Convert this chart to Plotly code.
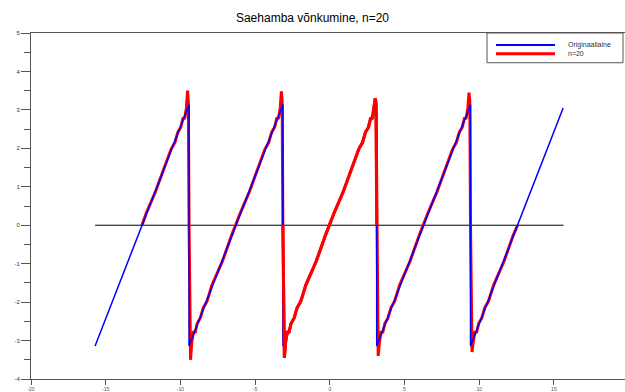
import plotly.graph_objects as go

# Original sawtooth (piecewise linear vertices)
orig_x = [-15.71, -9.42, -9.42, -3.14, -3.14, 3.14, 3.14, 9.42, 9.42, 15.62]
orig_y = [-3.14, 3.14, -3.14, 3.14, -3.14, 3.14, -3.14, 3.14, -3.14, 3.05]

# Zero line
zero_x = [-15.71, 15.64]
zero_y = [0, 0]

# Fourier approximation n=20
n20_x = [-12.57, -12.27, -11.67, -10.97,
         -10.62, -10.37, -10.17, -9.97, -9.82, -9.72, -9.60, -9.52, -9.47, -9.42,
         -9.37, -9.32, -9.24, -9.12, -9.02, -8.87, -8.67, -8.47, -8.22,
         -7.88, -7.18, -6.58, -5.98, -5.38, -4.68,
         -4.34, -4.09, -3.89, -3.69, -3.54, -3.44, -3.32, -3.24, -3.19, -3.14,
         -3.09, -3.04, -2.96, -2.84, -2.74, -2.59, -2.39, -2.19, -1.94,
         -1.60, -0.90, -0.30, 0.30, 0.90, 1.60,
         1.94, 2.19, 2.39, 2.59, 2.74, 2.84, 2.96, 3.04, 3.09, 3.14,
         3.19, 3.24, 3.32, 3.44, 3.54, 3.69, 3.89, 4.09, 4.34,
         4.68, 5.38, 5.98, 6.58, 7.18, 7.88,
         8.22, 8.47, 8.67, 8.87, 9.02, 9.12, 9.24, 9.32, 9.37, 9.42,
         9.47, 9.52, 9.60, 9.72, 9.82, 9.97, 10.17, 10.37, 10.62,
         10.97, 11.67, 12.27, 12.57]
n20_y = [0.00, 0.33, 0.87, 1.62,
         1.98, 2.15, 2.42, 2.55, 2.80, 2.76, 3.05, 3.50, 3.25, 0.00,
         -3.25, -3.50, -3.05, -2.76, -2.80, -2.55, -2.42, -2.15, -1.98,
         -1.55, -0.93, -0.27, 0.33, 0.87, 1.62,
         1.98, 2.15, 2.42, 2.55, 2.80, 2.76, 3.05, 3.48, 3.25, 0.00,
         -3.25, -3.45, -3.05, -2.76, -2.80, -2.55, -2.42, -2.15, -1.98,
         -1.55, -0.93, -0.27, 0.33, 0.87, 1.62,
         1.98, 2.15, 2.42, 2.55, 2.80, 2.76, 3.05, 3.30, 3.20, 0.00,
         -3.20, -3.40, -3.05, -2.76, -2.80, -2.55, -2.42, -2.15, -1.98,
         -1.55, -0.93, -0.27, 0.33, 0.87, 1.62,
         1.98, 2.15, 2.42, 2.55, 2.80, 2.76, 3.05, 3.45, 3.25, 0.00,
         -3.20, -3.30, -3.05, -2.76, -2.80, -2.55, -2.42, -2.15, -1.98,
         -1.55, -0.93, -0.27, 0.00]

x_ticks = [-20, -15, -10, -5, 0, 5, 10, 15, 20]
y_ticks = [-4, -3, -2, -1, 0, 1, 2, 3, 4, 5]
legend_names = ["Originaallaine", "n=20"]

BLUE = "#0000ff"
RED = "#ff0000"

# middle tooth of the approximation sits on top of the original line
i0 = n20_x.index(-3.14)
i1 = n20_x.index(3.14)

fig = go.Figure()
fig.add_trace(go.Scatter(x=zero_x, y=zero_y, mode="lines",
                         line=dict(color="black", width=1), showlegend=False,
                         hoverinfo="skip"))
fig.add_trace(go.Scatter(x=n20_x, y=n20_y, mode="lines", name=legend_names[1],
                         line=dict(color=RED, width=3), showlegend=False))
fig.add_trace(go.Scatter(x=orig_x, y=orig_y, mode="lines", name=legend_names[0],
                         line=dict(color=BLUE, width=1.5), showlegend=False))
fig.add_trace(go.Scatter(x=n20_x[i0:i1 + 1], y=n20_y[i0:i1 + 1], mode="lines",
                         name=legend_names[1],
                         line=dict(color=RED, width=3), showlegend=False))

# legend box (drawn in paper coordinates)
def px_x(p):
    return (p - 31) / 594.0

def px_y(p):
    return (382 - p) / 349.0

shapes = [
    dict(type="rect", xref="paper", yref="paper",
         x0=px_x(487), x1=px_x(623), y0=px_y(63), y1=px_y(33),
         line=dict(color="#555", width=1), fillcolor="white", layer="above"),
    dict(type="line", xref="paper", yref="paper",
         x0=px_x(496), x1=px_x(555), y0=px_y(45), y1=px_y(45),
         line=dict(color=BLUE, width=2), layer="above"),
    dict(type="line", xref="paper", yref="paper",
         x0=px_x(496), x1=px_x(555), y0=px_y(54), y1=px_y(54),
         line=dict(color=RED, width=3), layer="above"),
]
annotations = [
    dict(text=legend_names[0], xref="paper", yref="paper", x=px_x(566), y=px_y(45),
         xanchor="left", yanchor="middle", showarrow=False,
         font=dict(size=7, color="#333")),
    dict(text=legend_names[1], xref="paper", yref="paper", x=px_x(566), y=px_y(54),
         xanchor="left", yanchor="middle", showarrow=False,
         font=dict(size=7, color="#333")),
]

fig.update_layout(
    width=625, height=392,
    margin=dict(l=31, r=0, t=33, b=10),
    paper_bgcolor="white", plot_bgcolor="white",
    font=dict(family="Liberation Sans, Arial, sans-serif", color="#333"),
    title=dict(text="Saehamba võnkumine, n=20", x=0.5, xanchor="center",
               y=1 - 18 / 392, yanchor="middle",
               font=dict(size=12, color="black")),
    showlegend=False,
    shapes=shapes,
    annotations=annotations,
    xaxis=dict(range=[-20, 19.76], tickvals=x_ticks,
               ticktext=[str(v) for v in x_ticks],
               ticks="outside", ticklen=5, tickcolor="#555",
               showline=True, linecolor="#555", linewidth=1, mirror=True,
               showgrid=False, zeroline=False,
               tickfont=dict(size=5, color="#555")),
    yaxis=dict(range=[-4, 5], tickvals=y_ticks,
               ticktext=[str(v) for v in y_ticks],
               ticks="outside", ticklen=9, tickcolor="#555",
               minor=dict(dtick=0.5, ticks="outside", ticklen=6, tickcolor="#555"),
               showline=True, linecolor="#555", linewidth=1, mirror=False,
               showgrid=False, zeroline=False,
               tickfont=dict(size=6, color="#333")),
)

fig.write_html("out.html")
